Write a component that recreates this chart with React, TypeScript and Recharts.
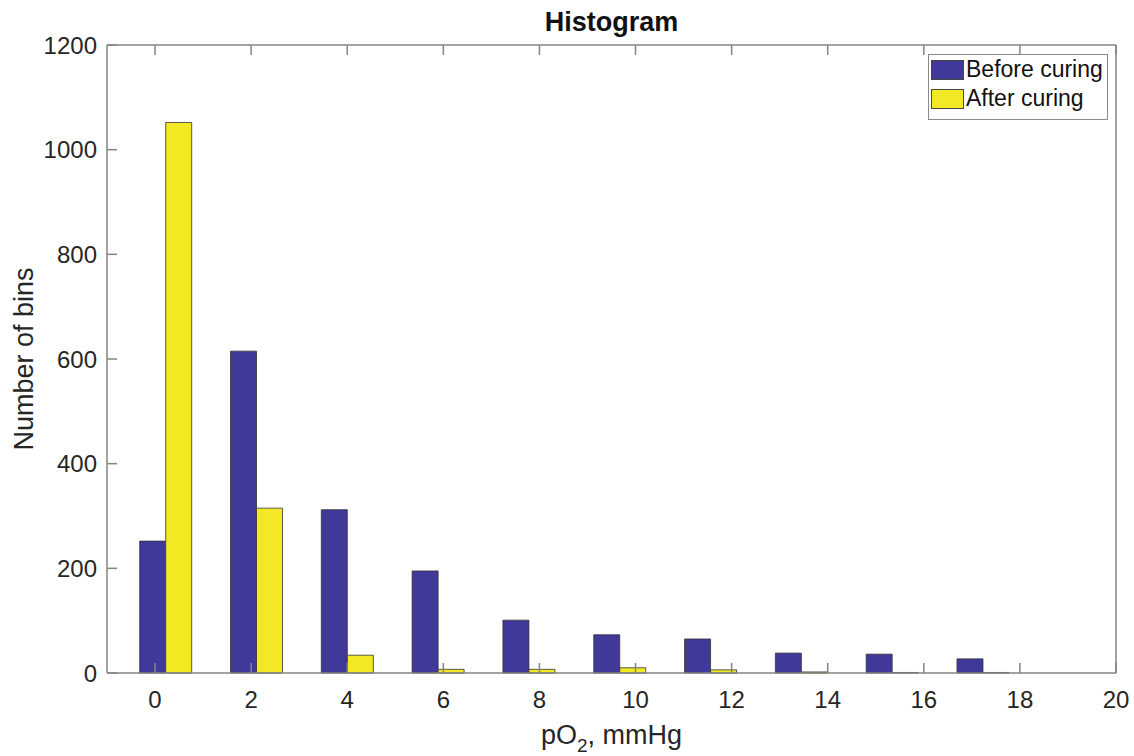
import React from 'react';
import { BarChart, Bar, XAxis, YAxis, Legend } from 'recharts';

// bin centres (pO2, mmHg) and counts
const binCenters = [0.23, 2.12, 4.01, 5.9, 7.79, 9.68, 11.57, 13.46, 15.35, 17.24];
const beforeCuring = [252, 615, 312, 195, 101, 73, 65, 38, 36, 27];
const afterCuring = [1052, 315, 34, 7, 7, 10, 6, 2, 1, 1];
const seriesNames = ['Before curing', 'After curing'];
const xTicks = [0, 2, 4, 6, 8, 10, 12, 14, 16, 18, 20];
const yTicks = [0, 200, 400, 600, 800, 1000, 1200];

const data = binCenters.map((x, i) => ({ x, before: beforeCuring[i], after: afterCuring[i] }));

const FONT = '"Liberation Sans", Arial, Helvetica, sans-serif';
const AXIS = '#848484';
const TEXT = '#262626';
const BLUE = '#40399a';
const YELLOW = '#f2e824';

// plot box (px)
const LEFT = 107;
const RIGHT = 1116;
const TOP = 45;
const BOTTOM = 673;
const TICK = 10;

const BottomTick = (props: any) => {
  const { x, payload } = props;
  return (
    <g>
      <line x1={x} x2={x} y1={BOTTOM} y2={BOTTOM - TICK} stroke={AXIS} strokeWidth={1.5} />
      <text x={x} y={BOTTOM + 35} textAnchor="middle" fill={TEXT} fontSize={24} fontFamily={FONT}>
        {payload.value}
      </text>
    </g>
  );
};

const TopTick = (props: any) => (
  <line x1={props.x} x2={props.x} y1={TOP} y2={TOP + TICK} stroke={AXIS} strokeWidth={1.5} />
);

const LeftTick = (props: any) => {
  const { y, payload } = props;
  return (
    <g>
      <line x1={LEFT} x2={LEFT + TICK} y1={y} y2={y} stroke={AXIS} strokeWidth={1.5} />
      <text x={LEFT - 10} y={y} dy="0.36em" textAnchor="end" fill={TEXT} fontSize={24} fontFamily={FONT}>
        {payload.value}
      </text>
    </g>
  );
};

const RightTick = (props: any) => (
  <line x1={RIGHT} x2={RIGHT - TICK} y1={props.y} y2={props.y} stroke={AXIS} strokeWidth={1.5} />
);

const LegendBox = (props: any) => {
  const items = [...(props.payload || [])].sort(
    (a: any, b: any) => seriesNames.indexOf(a.value) - seriesNames.indexOf(b.value)
  );
  return (
    <div
      style={{
        border: '1px solid #8a8a8a',
        background: '#fff',
        width: 178,
        height: 59,
        boxSizing: 'content-box',
        paddingTop: 5,
        fontFamily: FONT,
        fontSize: 23,
        color: '#111',
      }}
    >
      {items.map((entry: any, i: number) => (
        <div key={i} style={{ display: 'flex', alignItems: 'center', height: 19, marginBottom: 10, marginLeft: 2 }}>
          <span
            style={{
              display: 'inline-block',
              width: 31,
              height: 18,
              background: entry.color,
              border: '1px solid #444',
              marginRight: 2,
            }}
          />
          <span style={{ lineHeight: '19px', whiteSpace: 'nowrap' }}>{entry.value}</span>
        </div>
      ))}
    </div>
  );
};

const XLabel = (props: any) => {
  const vb = props.viewBox || {};
  const cx = vb.x + vb.width / 2;
  return (
    <text x={cx} y={744} textAnchor="middle" fill={TEXT} fontSize={27} fontFamily={FONT}>
      pO
      <tspan fontSize={19} dy={8}>2</tspan>
      <tspan dy={-8}>, mmHg</tspan>
    </text>
  );
};

const YLabel = () => (
  <text
    x={0}
    y={0}
    transform={`translate(33, ${(TOP + BOTTOM) / 2}) rotate(-90)`}
    textAnchor="middle"
    fill={TEXT}
    fontSize={27}
    fontFamily={FONT}
  >
    Number of bins
  </text>
);

const Title = () => (
  <text x={(LEFT + RIGHT) / 2} y={31} textAnchor="middle" fill="#111" fontSize={27} fontWeight="bold" fontFamily={FONT}>
    Histogram
  </text>
);

export default function App() {
  return (
    <div style={{ position: 'absolute', left: 0, top: 0, background: '#fff' }}>
      <BarChart
        width={1134}
        height={756}
        data={data}
        margin={{ top: TOP - 1, right: 1134 - RIGHT - 1, bottom: 756 - BOTTOM - 40, left: LEFT - 60 }}
        barGap={0}
      >
        <XAxis
          xAxisId="bottom"
          type="number"
          dataKey="x"
          domain={[-1, 20]}
          ticks={xTicks}
          interval={0}
          tick={BottomTick}
          tickLine={false}
          axisLine={{ stroke: AXIS, strokeWidth: 1.5 }}
          height={40}
          label={{ content: XLabel }}
        />
        <XAxis
          xAxisId="top"
          orientation="top"
          type="number"
          dataKey="x"
          domain={[-1, 20]}
          ticks={xTicks}
          interval={0}
          tick={TopTick}
          tickLine={false}
          axisLine={{ stroke: AXIS, strokeWidth: 1.5 }}
          height={1}
          label={{ content: Title }}
        />
        <YAxis
          yAxisId="left"
          domain={[0, 1200]}
          ticks={yTicks}
          interval={0}
          tick={LeftTick}
          tickLine={false}
          axisLine={{ stroke: AXIS, strokeWidth: 1.5 }}
          width={60}
          label={{ content: YLabel }}
        />
        <YAxis
          yAxisId="right"
          orientation="right"
          domain={[0, 1200]}
          ticks={yTicks}
          interval={0}
          tick={RightTick}
          tickLine={false}
          axisLine={{ stroke: AXIS, strokeWidth: 1.5 }}
          width={1}
        />
        <Legend
          layout="vertical"
          align="center"
          verticalAlign="middle"
          content={LegendBox}
          wrapperStyle={{ top: 54, left: 928, width: 180, height: 64 }}
        />
        <Bar
          xAxisId="bottom"
          yAxisId="left"
          dataKey="before"
          name={seriesNames[0]}
          fill={BLUE}
          stroke="#333"
          strokeWidth={0.8}
          barSize={26}
          isAnimationActive={false}
        />
        <Bar
          xAxisId="bottom"
          yAxisId="left"
          dataKey="after"
          name={seriesNames[1]}
          fill={YELLOW}
          stroke="#333"
          strokeWidth={0.8}
          barSize={26}
          isAnimationActive={false}
        />
      </BarChart>
    </div>
  );
}
